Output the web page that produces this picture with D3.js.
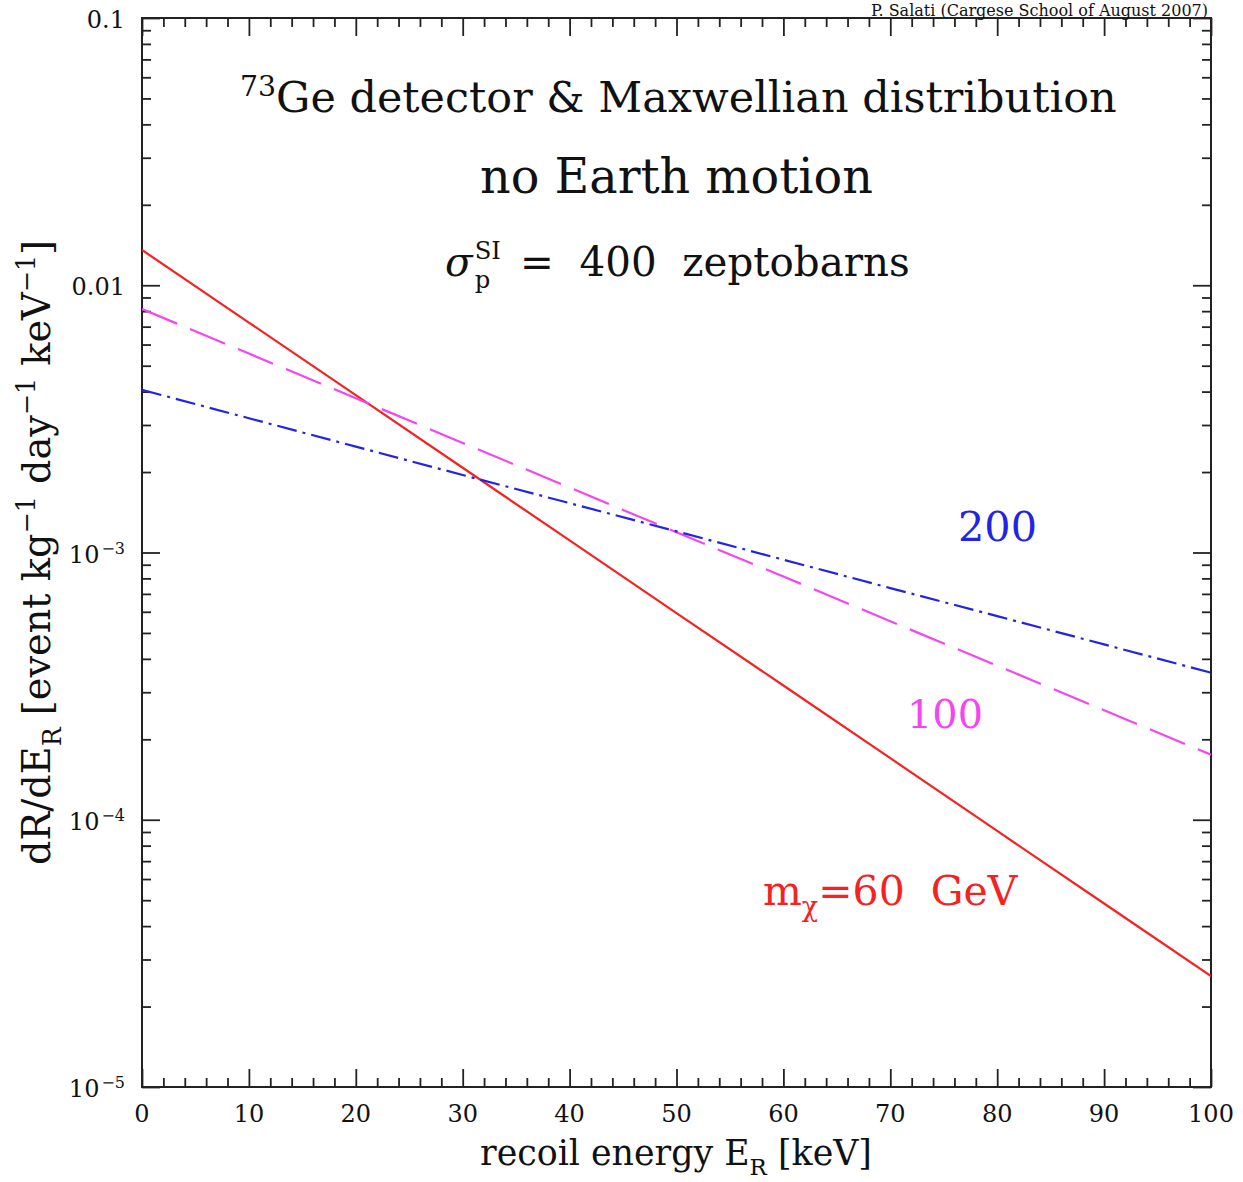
<!DOCTYPE html>
<html>
<head>
<meta charset="utf-8">
<script src="https://cdn.jsdelivr.net/npm/d3@7"></script>
<style>
  html, body { margin: 0; padding: 0; background: #fff; }
  svg { display: block; }
  text { font-family: "DejaVu Serif", "Liberation Serif", serif; white-space: pre; }
</style>
</head>
<body>
<svg id="chart" width="1243" height="1182"></svg>
<script>
// ---------- data ----------
const energy = [0, 10, 20, 30, 40, 50, 60, 70, 80, 90, 100];           // keV
const rate60GeV  = [0.01355, 0.00725, 0.00388, 0.002075, 0.00111, 0.000593, 0.000318, 0.000170, 0.0000908, 0.0000486, 0.0000260];
const rate100GeV = [0.00815, 0.00555, 0.00378, 0.00257, 0.00175, 0.00119, 0.000813, 0.000553, 0.000377, 0.000257, 0.000175];
const rate200GeV = [0.00406, 0.00318, 0.00249, 0.00195, 0.00153, 0.00120, 0.000940, 0.000736, 0.000578, 0.000453, 0.000355];
const seriesNames = ["m_χ=60 GeV", "100", "200"];

const xMajorTicks = [0, 10, 20, 30, 40, 50, 60, 70, 80, 90, 100];
const xTickLabels = ["0", "10", "20", "30", "40", "50", "60", "70", "80", "90", "100"];
const yMajorTicks = [1e-5, 1e-4, 1e-3, 1e-2, 1e-1];
const yTickMantissa = ["10", "10", "10", "0.01", "0.1"];
const yTickExponent = ["−5", "−4", "−3", "", ""];

// ---------- layout ----------
const svg = d3.select("#chart");
const L = 142, R = 1211, T = 18, B = 1087;
const x = d3.scaleLinear().domain([0, 100]).range([L, R]);
const y = d3.scaleLog().domain([1e-5, 0.1]).range([B, T]);

const xMinorTicks = d3.range(0, 100.001, 2).filter(v => v % 10 !== 0);
const yMinorTicks = [];
for (let e = -5; e < -1; e++) for (let m = 2; m <= 9; m++) yMinorTicks.push(m * Math.pow(10, e));

const MAJ = 18, MIN = 9;

function hideDomain(g) { g.select(".domain").remove(); }
// bottom axis (ticks inward)
svg.append("g").attr("transform", `translate(0,${B})`)
  .call(d3.axisBottom(x).tickValues(xMajorTicks).tickSize(-MAJ).tickFormat(""))
  .call(hideDomain);
svg.append("g").attr("transform", `translate(0,${B})`)
  .call(d3.axisBottom(x).tickValues(xMinorTicks).tickSize(-MIN).tickFormat(""))
  .call(hideDomain);
// top axis
svg.append("g").attr("transform", `translate(0,${T})`)
  .call(d3.axisTop(x).tickValues(xMajorTicks).tickSize(-MAJ).tickFormat(""))
  .call(hideDomain);
svg.append("g").attr("transform", `translate(0,${T})`)
  .call(d3.axisTop(x).tickValues(xMinorTicks).tickSize(-MIN).tickFormat(""))
  .call(hideDomain);
// left axis
svg.append("g").attr("transform", `translate(${L},0)`)
  .call(d3.axisLeft(y).tickValues(yMajorTicks).tickSize(-MAJ).tickFormat(""))
  .call(hideDomain);
svg.append("g").attr("transform", `translate(${L},0)`)
  .call(d3.axisLeft(y).tickValues(yMinorTicks).tickSize(-MIN).tickFormat(""))
  .call(hideDomain);
// right axis
svg.append("g").attr("transform", `translate(${R},0)`)
  .call(d3.axisRight(y).tickValues(yMajorTicks).tickSize(-MAJ).tickFormat(""))
  .call(hideDomain);
svg.append("g").attr("transform", `translate(${R},0)`)
  .call(d3.axisRight(y).tickValues(yMinorTicks).tickSize(-MIN).tickFormat(""))
  .call(hideDomain);
svg.selectAll(".tick line").attr("stroke", "#222").attr("stroke-width", 1.8);

// frame
svg.append("rect").attr("x", L).attr("y", T).attr("width", R - L).attr("height", B - T)
  .attr("fill", "none").attr("stroke", "#222").attr("stroke-width", 2);

// tick labels
const tickFont = 24;
svg.append("g").selectAll("text").data(xMajorTicks).join("text")
  .attr("x", d => x(d)).attr("y", B + 35)
  .attr("text-anchor", "middle").attr("font-size", tickFont).attr("fill", "#111")
  .text((d, i) => xTickLabels[i]);

yMajorTicks.forEach((v, i) => {
  const t = svg.append("text").attr("x", L - 17).attr("y", y(v) + 10)
    .attr("text-anchor", "end").attr("font-size", tickFont).attr("fill", "#111");
  if (yTickExponent[i]) {
    t.append("tspan").text(yTickMantissa[i]);
    t.append("tspan").attr("dx", 2).attr("dy", -9).attr("font-size", 16).text(yTickExponent[i]);
  } else {
    t.text(yTickMantissa[i]);
  }
});

// ---------- lines ----------
const line = d3.line().x(d => x(d[0])).y(d => y(d[1]));
const series = [
  { name: seriesNames[0], values: rate60GeV,  color: "#f52222", dash: null },
  { name: seriesNames[1], values: rate100GeV, color: "#f545f0", dash: "38,14" },
  { name: seriesNames[2], values: rate200GeV, color: "#2323e6", dash: "20,6,3,6" }
];
const clipId = "plotclip";
svg.append("clipPath").attr("id", clipId).append("rect")
  .attr("x", L).attr("y", T).attr("width", R - L).attr("height", B - T);
svg.append("g").attr("clip-path", `url(#${clipId})`).selectAll("path").data(series).join("path")
  .attr("d", s => line(energy.map((e, i) => [e, s.values[i]])))
  .attr("fill", "none").attr("stroke", s => s.color).attr("stroke-width", 2.2)
  .attr("stroke-dasharray", s => s.dash);

// ---------- rich text helper ----------
// parts: [text, mode] mode: "" | "sup" | "sub"
function rich(parent, parts, size, color) {
  const t = parent.append("text").attr("font-size", size).attr("fill", color);
  let off = 0;
  parts.forEach(([s, mode]) => {
    const target = mode === "sup" ? -0.38 * size : mode === "sub" ? 0.28 * size : 0;
    const ts = t.append("tspan").attr("dy", target - off).text(s);
    if (mode) ts.attr("font-size", size * 0.66);
    off = target;
  });
  return t;
}
// place a group so its content spans [left, left+width] with baseline at y
function fitGroup(g, left, baseline, width) {
  const bb = g.node().getBBox();
  const k = width / bb.width;
  g.attr("transform", `translate(${left - bb.x * k},${baseline}) scale(${k})`);
}

// credit line
svg.append("text").attr("x", 1208).attr("y", 16).attr("text-anchor", "end")
  .attr("font-size", 16).attr("fill", "#111")
  .text("P. Salati (Cargese School of August 2007)");

// title lines
{
  const g = svg.append("g");
  rich(g, [["73", "sup"], ["Ge detector & Maxwellian distribution", ""]], 38, "#111");
  fitGroup(g, 240, 112, 877);
}
{
  const g = svg.append("g");
  rich(g, [["no Earth motion", ""]], 38, "#111");
  fitGroup(g, 480, 193, 393);
}
{
  const g = svg.append("g");
  const size = 38;
  const sig = g.append("text").attr("font-size", size).attr("font-style", "italic").attr("fill", "#111").text("σ");
  const w0 = sig.node().getComputedTextLength() + 2;
  const si = g.append("text").attr("x", w0).attr("y", -0.42 * size).attr("font-size", size * 0.6).attr("fill", "#111").text("SI");
  g.append("text").attr("x", w0).attr("y", 0.3 * size).attr("font-size", size * 0.6).attr("fill", "#111").text("p");
  const siW = si.node().getComputedTextLength();
  g.append("text").attr("x", w0 + siW + 6).attr("font-size", size).attr("fill", "#111").text(" =  400  zeptobarns");
  fitGroup(g, 445, 276, 465);
}
// series labels
{
  const g = svg.append("g");
  rich(g, [[seriesNames[2], ""]], 38, series[2].color);
  fitGroup(g, 958, 541, 79);
}
{
  const g = svg.append("g");
  rich(g, [[seriesNames[1], ""]], 38, series[1].color);
  fitGroup(g, 907, 728, 76);
}
{
  const g = svg.append("g");
  rich(g, [["m", ""], ["χ", "sub"], ["=60  GeV", ""]], 38, series[0].color);
  fitGroup(g, 763, 905, 255);
}
// axis titles
{
  const g = svg.append("g");
  rich(g, [["recoil energy E", ""], ["R", "sub"], [" [keV]", ""]], 30, "#111");
  fitGroup(g, 480, 1165, 392);
}
{
  const outer = svg.append("g").attr("transform", "translate(50,865) rotate(-90)");
  const g = outer.append("g");
  rich(g, [["dR/dE", ""], ["R", "sub"], [" [event kg", ""], ["−1", "sup"], [" day", ""], ["−1", "sup"], [" keV", ""], ["−1", "sup"], ["]", ""]], 30, "#111");
  fitGroup(g, 0, 0, 625);
}
</script>
</body>
</html>
